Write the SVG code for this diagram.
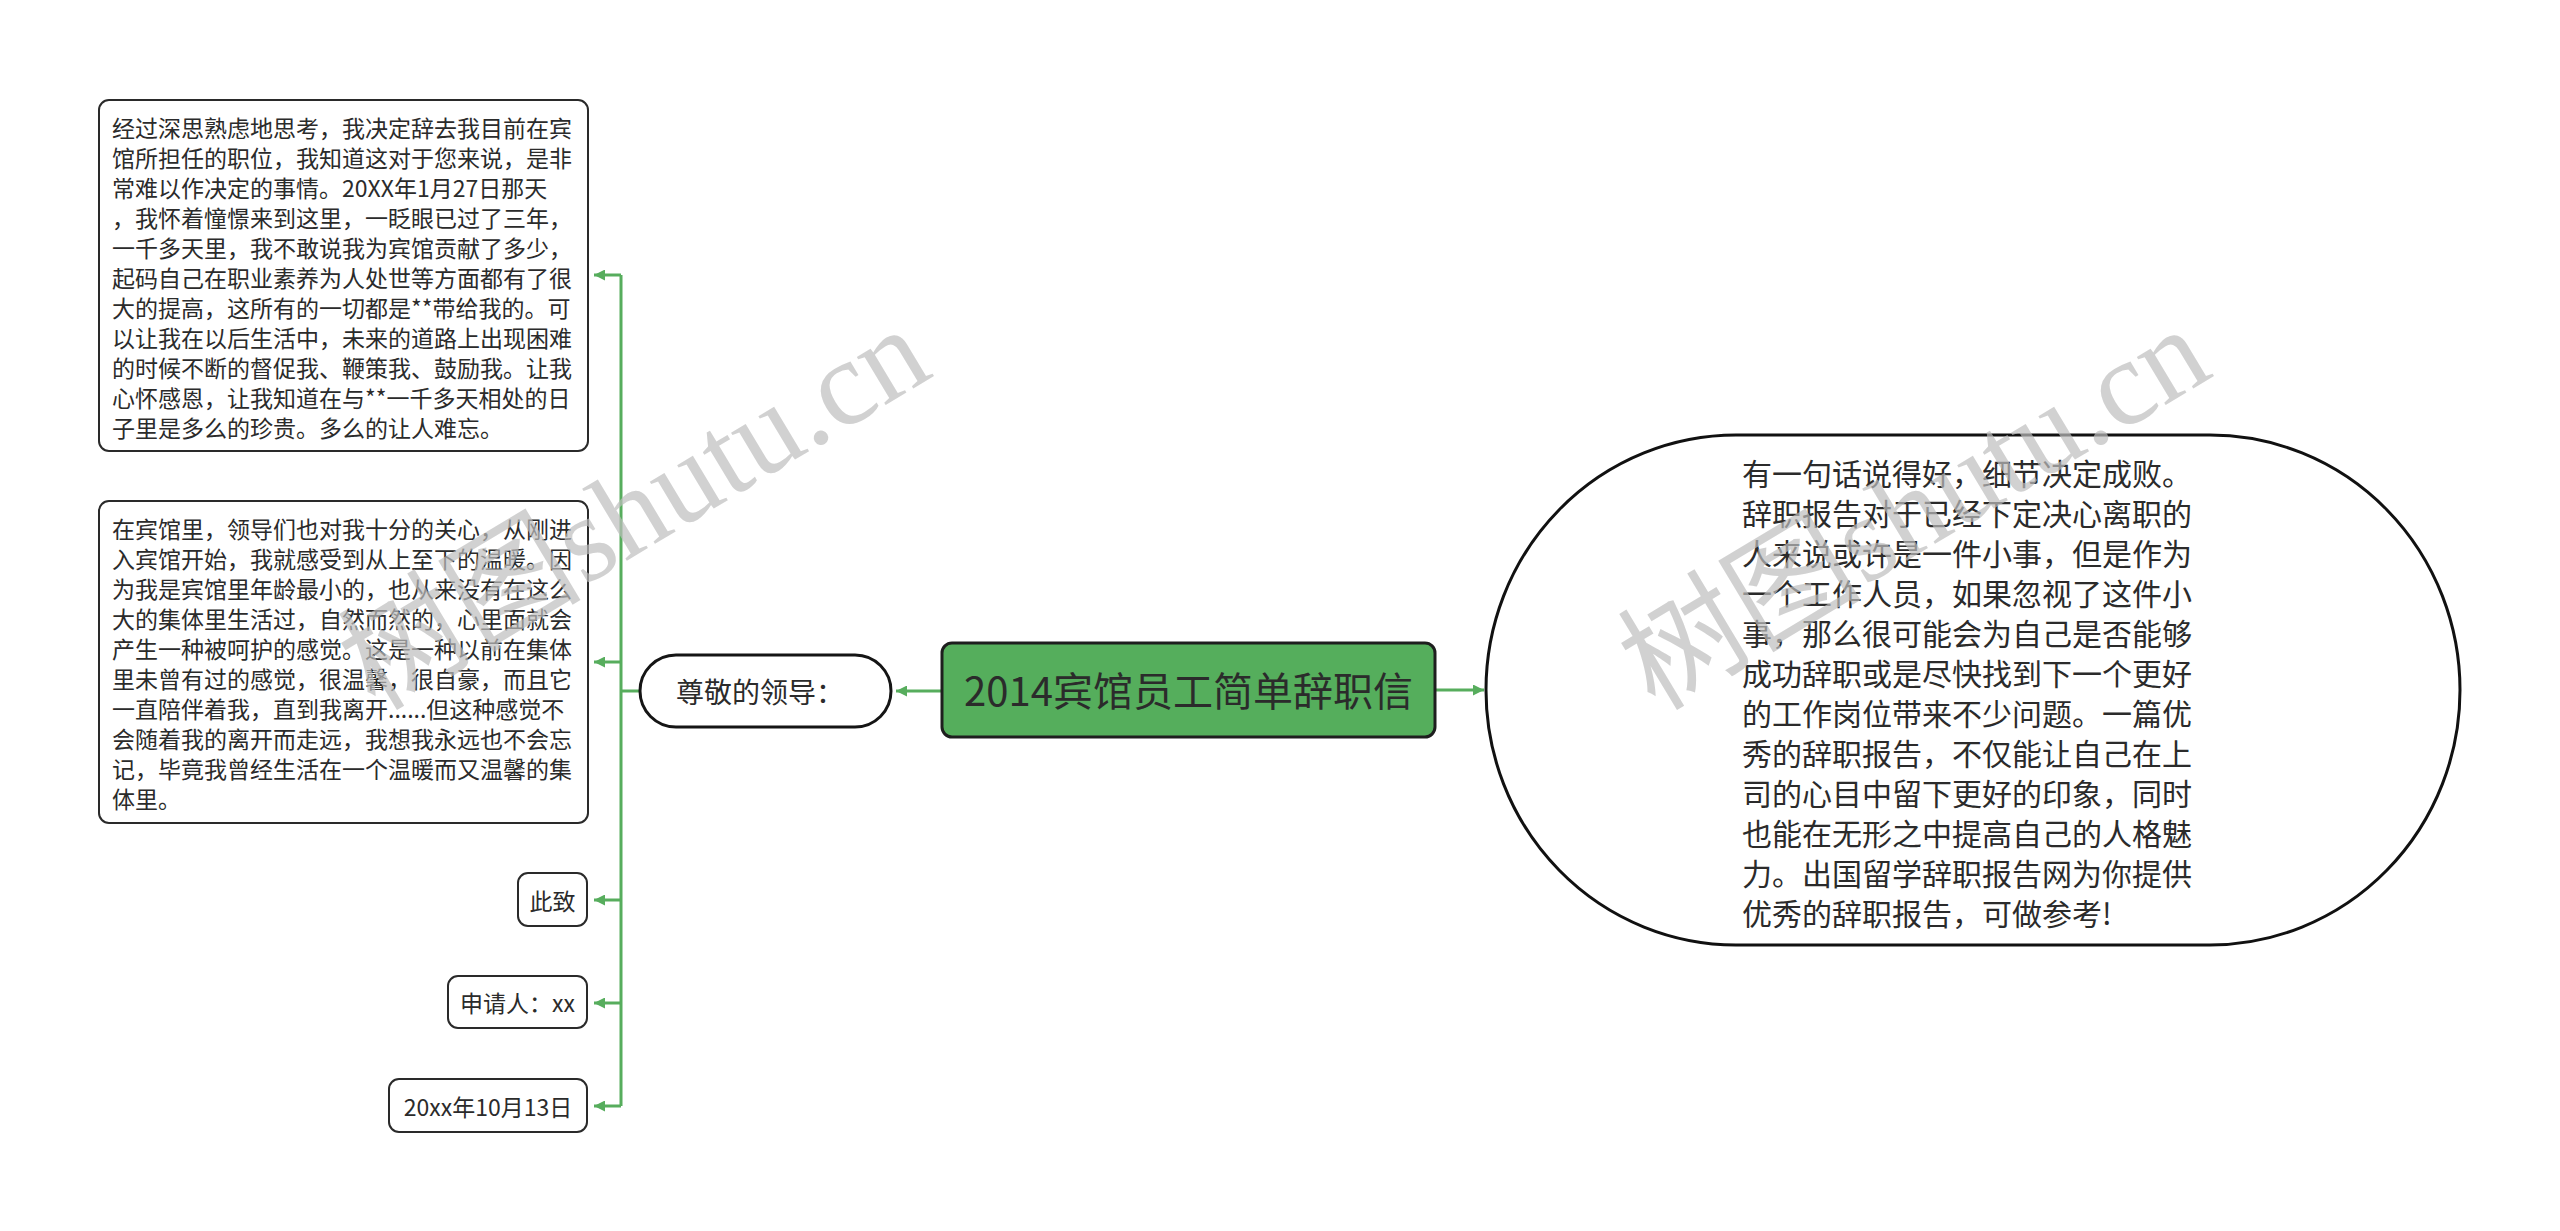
<svg xmlns="http://www.w3.org/2000/svg" width="2560" height="1231" viewBox="0 0 2560 1231">
<style>
.bg{fill:#ffffff}
.box{fill:#ffffff;stroke:#2a2a2a;stroke-width:2}
.t{font-family:"Noto Sans CJK SC","Noto Sans",sans-serif;fill:#2b2b2b;dominant-baseline:central}
.s{font-size:23px}
.m{font-size:30px}
.conn{fill:none;stroke:#57ad5d;stroke-width:3}
.wm{font-family:"Liberation Serif","Noto Sans CJK SC",serif;font-size:122px;fill:#bdbdbd;fill-opacity:0.7}
</style>
<defs>
<marker id="arr" viewBox="0 0 10 10" refX="10" refY="5" markerWidth="11" markerHeight="11" markerUnits="userSpaceOnUse" orient="auto">
<path d="M0,0 L10,5 L0,10 z" fill="#57ad5d"/>
</marker>
</defs>
<rect class="bg" x="0" y="0" width="2560" height="1231"/>

<g id="connectors">
<path class="conn" d="M621,275 V1106"/>
<path class="conn" d="M640,691 H621"/>
<path class="conn" d="M621,275 H594" marker-end="url(#arr)"/>
<path class="conn" d="M621,662 H594" marker-end="url(#arr)"/>
<path class="conn" d="M621,900 H594" marker-end="url(#arr)"/>
<path class="conn" d="M621,1003 H594" marker-end="url(#arr)"/>
<path class="conn" d="M621,1106 H594" marker-end="url(#arr)"/>
<path class="conn" d="M942,691 H896" marker-end="url(#arr)"/>
<path class="conn" d="M1435,690 H1484" marker-end="url(#arr)"/>
</g>

<g id="root">
<rect x="942" y="643" width="493" height="94" rx="10" fill="#55ae5c" stroke="#1e1e1e" stroke-width="3"/>
<text class="t" x="1188.5" y="689" font-size="40" text-anchor="middle">2014宾馆员工简单辞职信</text>
</g>

<g id="greeting">
<rect x="640" y="655" width="251" height="72" rx="36" fill="#ffffff" stroke="#151515" stroke-width="3"/>
<text class="t" x="676" y="691" font-size="28">尊敬的领导：</text>
</g>

<g id="para1">
<rect class="box" x="99" y="100" width="489" height="351" rx="10"/>
<text class="t s" x="112" y="127">经过深思熟虑地思考，我决定辞去我目前在宾</text>
<text class="t s" x="112" y="157">馆所担任的职位，我知道这对于您来说，是非</text>
<text class="t s" x="112" y="187">常难以作决定的事情。20XX年1月27日那天</text>
<text class="t s" x="112" y="217">，我怀着憧憬来到这里，一眨眼已过了三年，</text>
<text class="t s" x="112" y="247">一千多天里，我不敢说我为宾馆贡献了多少，</text>
<text class="t s" x="112" y="277">起码自己在职业素养为人处世等方面都有了很</text>
<text class="t s" x="112" y="307">大的提高，这所有的一切都是**带给我的。可</text>
<text class="t s" x="112" y="337">以让我在以后生活中，未来的道路上出现困难</text>
<text class="t s" x="112" y="367">的时候不断的督促我、鞭策我、鼓励我。让我</text>
<text class="t s" x="112" y="397">心怀感恩，让我知道在与**一千多天相处的日</text>
<text class="t s" x="112" y="427">子里是多么的珍贵。多么的让人难忘。</text>
</g>

<g id="para2">
<rect class="box" x="99" y="501" width="489" height="322" rx="10"/>
<text class="t s" x="112" y="528">在宾馆里，领导们也对我十分的关心，从刚进</text>
<text class="t s" x="112" y="558">入宾馆开始，我就感受到从上至下的温暖。因</text>
<text class="t s" x="112" y="588">为我是宾馆里年龄最小的，也从来没有在这么</text>
<text class="t s" x="112" y="618">大的集体里生活过，自然而然的，心里面就会</text>
<text class="t s" x="112" y="648">产生一种被呵护的感觉。这是一种以前在集体</text>
<text class="t s" x="112" y="678">里未曾有过的感觉，很温馨，很自豪，而且它</text>
<text class="t s" x="112" y="708">一直陪伴着我，直到我离开......但这种感觉不</text>
<text class="t s" x="112" y="738">会随着我的离开而走远，我想我永远也不会忘</text>
<text class="t s" x="112" y="768">记，毕竟我曾经生活在一个温暖而又温馨的集</text>
<text class="t s" x="112" y="798">体里。</text>
</g>

<g id="closing">
<rect class="box" x="518" y="873" width="69" height="53" rx="10"/>
<text class="t s" x="552.5" y="900" text-anchor="middle">此致</text>
</g>

<g id="applicant">
<rect class="box" x="448" y="976" width="139" height="52" rx="10"/>
<text class="t s" x="517.5" y="1002" text-anchor="middle">申请人：xx</text>
</g>

<g id="date">
<rect class="box" x="389" y="1079" width="198" height="53" rx="10"/>
<text class="t s" x="488" y="1106" text-anchor="middle">20xx年10月13日</text>
</g>

<g id="intro">
<rect x="1486" y="435" width="974" height="510" rx="250" ry="255" fill="#ffffff" stroke="#111111" stroke-width="3"/>
<text class="t m" x="1742" y="472">有一句话说得好，细节决定成败。</text>
<text class="t m" x="1742" y="512">辞职报告对于已经下定决心离职的</text>
<text class="t m" x="1742" y="552">人来说或许是一件小事，但是作为</text>
<text class="t m" x="1742" y="592">一个工作人员，如果忽视了这件小</text>
<text class="t m" x="1742" y="632">事，那么很可能会为自己是否能够</text>
<text class="t m" x="1742" y="672">成功辞职或是尽快找到下一个更好</text>
<text class="t m" x="1742" y="712">的工作岗位带来不少问题。一篇优</text>
<text class="t m" x="1742" y="752">秀的辞职报告，不仅能让自己在上</text>
<text class="t m" x="1742" y="792">司的心目中留下更好的印象，同时</text>
<text class="t m" x="1742" y="832">也能在无形之中提高自己的人格魅</text>
<text class="t m" x="1742" y="872">力。出国留学辞职报告网为你提供</text>
<text class="t m" x="1742" y="912">优秀的辞职报告，可做参考!</text>
</g>

<g id="watermark">
<text class="wm" transform="translate(375,712) rotate(-31)">树图shutu.cn</text>
<text class="wm" transform="translate(1655,712) rotate(-31)">树图shutu.cn</text>
</g>
</svg>
